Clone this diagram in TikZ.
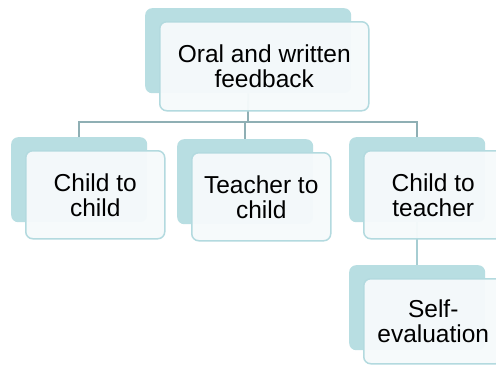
\documentclass[tikz,border=0pt]{standalone}
\usepackage{fontspec}
\setmainfont{Liberation Sans}
\usetikzlibrary{calc}
\definecolor{backfill}{HTML}{B8DEE2}
\definecolor{frontfill}{HTML}{F6FAFB}
\definecolor{frontline}{HTML}{B3DADF}
\definecolor{linkgray}{HTML}{8FAFB4}
\definecolor{linklight}{HTML}{A6CDD2}
\tikzset{
  backbox/.style={draw=none, fill=backfill, rounded corners=7pt, anchor=north west,
    inner sep=0pt, minimum width=136pt, minimum height=85pt},
  frontbox/.style={draw=frontline, line width=1.5pt, fill=frontfill, fill opacity=0.96,
    text opacity=1, rounded corners=7pt, anchor=north west, inner sep=0pt,
    minimum width=139pt, minimum height=88pt, align=center,
    font=\fontsize{24.5}{25}\selectfont, text=black},
  link/.style={draw=linkgray, line width=1.8pt},
  linklt/.style={draw=linklight, line width=1.8pt}
}
\begin{document}
\begin{tikzpicture}[x=1pt,y=-1pt]
\useasboundingbox (0,0) rectangle (496,365);
\clip (0,0) rectangle (496,365);
\fill[white] (0,0) rectangle (496,365);

% shaded back plates
\node[backbox, minimum width=206pt] (b1) at (145,8) {};
\node[backbox] (b2) at (11,137) {};
\node[backbox] (b3) at (177,139) {};
\node[backbox] (b4) at (349,137) {};
\node[backbox] (b5) at (349,265) {};

% hierarchy connectors
\coordinate (bar) at (248,122);
\draw[link] (b1.south) -- (bar);
\draw[link] (b2.north) |- (bar) -| (b4.north);
\draw[link] (bar -| b3.north) -- (b3.north);
\draw[linklt] (b4.south) -- (b5.north);

% labelled front cards
\node[frontbox, minimum width=209pt, minimum height=89pt] (f1) at (159,21) {Oral and written\\feedback};
\node[frontbox] (f2) at (25,150) {Child to\\child};
\node[frontbox] (f3) at (191,152) {Teacher to\\child};
\node[frontbox] (f4) at (363,150) {Child to\\teacher};
\node[frontbox, minimum height=85pt] (f5) at (363,278) {Self-\\evaluation};
\end{tikzpicture}
\end{document}
